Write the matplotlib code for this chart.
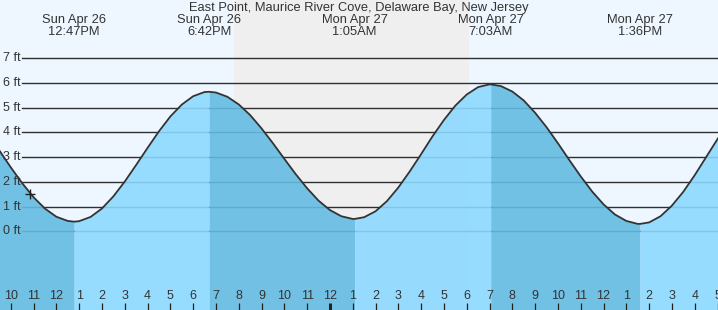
import matplotlib
matplotlib.use("Agg")
import matplotlib.pyplot as plt
import matplotlib.transforms as mtransforms

# ---- data (hours since 00:00 Sun Apr 26) ----
T = [9.5, 10.0, 10.5, 11.0, 11.5, 12.0, 12.5, 12.783, 13.0, 13.5, 14.0, 14.5, 15.0, 15.5, 16.0,
     16.5, 17.0, 17.5, 18.0, 18.5, 18.7, 19.0, 19.5, 20.0, 20.5, 21.0, 21.5, 22.0, 22.5, 23.0,
     23.5, 24.0, 24.5, 25.0, 25.083, 25.5, 26.0, 26.5, 27.0, 27.5, 28.0, 28.5, 29.0, 29.5, 30.0,
     30.5, 31.0, 31.05, 31.5, 32.0, 32.5, 33.0, 33.5, 34.0, 34.5, 35.0, 35.5, 36.0, 36.5, 37.0,
     37.5, 37.6, 38.0, 38.5, 39.0, 39.5, 40.0, 40.5, 41.0, 41.5]
H = [3.27, 2.59, 1.95, 1.38, 0.92, 0.59, 0.42, 0.39, 0.41, 0.58, 0.92, 1.41, 2.01, 2.68, 3.37,
     4.04, 4.64, 5.12, 5.46, 5.63, 5.64, 5.61, 5.44, 5.13, 4.7, 4.16, 3.56, 2.93, 2.31, 1.74,
     1.24, 0.86, 0.61, 0.5, 0.5, 0.57, 0.81, 1.22, 1.77, 2.42, 3.12, 3.84, 4.5, 5.08, 5.53,
     5.83, 5.94, 5.94, 5.87, 5.65, 5.29, 4.79, 4.21, 3.56, 2.88, 2.22, 1.61, 1.09, 0.68, 0.42,
     0.3, 0.3, 0.36, 0.61, 1.04, 1.6, 2.27, 3.0, 3.73, 4.42]

event_t = [12.783, 18.7, 25.083, 31.05, 37.6]
event_day = ["Sun Apr 26", "Sun Apr 26", "Mon Apr 27", "Mon Apr 27", "Mon Apr 27"]
event_time = ["12:47PM", "6:42PM", "1:05AM", "7:03AM", "1:36PM"]
event_falling = [False, True, False, True, False]   # tide after each event is falling?

sunset, sunrise = 19.79, 30.09
now_t, now_h = 10.85, 1.5
hours = list(range(10, 42))
ft_levels = list(range(0, 8))
title = "East Point, Maurice River Cove, Delaware Bay, New Jersey"

# ---- style ----
W, Hpx = 718, 310
FONT = "Liberation Sans"
TXT = "#333333"
SKY = "#eef7ff"
NIGHT = "#efefef"
LIGHT = "#8cd9ff"
DARK = "#64bce3"

fig = plt.figure(figsize=(W / 100, Hpx / 100), dpi=100)
ax = fig.add_axes([0, 0, 1, 1])
ax.set_xlim(9.53, 41.02)
ax.set_ylim(-3.18, 9.35)
ax.set_facecolor(SKY)
for s in ax.spines.values():
    s.set_visible(False)
ax.set_xticks([])
ax.set_yticks([])

ax.axvspan(sunset, sunrise, color=NIGHT, lw=0, zorder=0)

yt = mtransforms.blended_transform_factory(ax.transAxes, ax.transData)
xt = ax.get_xaxis_transform()

for v in ft_levels:
    ax.axhline(v, xmin=22 / W, xmax=1, color="#2f2f2f", lw=1.0, zorder=1)
    ax.text(3 / W, v, f"{v} ft", transform=yt, ha="left", va="center",
            fontsize=9, color=TXT, family=FONT, zorder=5)

# water fill segments, alternating by rising/falling
bounds = [T[0]] + event_t + [T[-1]]
falling = [True] + event_falling
for i in range(len(bounds) - 1):
    a, b = bounds[i], bounds[i + 1]
    xs = [t for t in T if a <= t <= b]
    ys = [h for t, h in zip(T, H) if a <= t <= b]
    ax.fill_between(xs, ys, -4, color=DARK if falling[i] else LIGHT, alpha=0.9, lw=0, zorder=2)

ax.plot(T, H, color="#333333", lw=1.3, zorder=3, solid_capstyle="round")
ax.plot([now_t], [now_h], marker="+", color="#222222", ms=7, mew=1.0, zorder=4)

# hour ticks along the bottom
for h in hours:
    lab = str((h - 1) % 12 + 1)
    ax.text(h, (Hpx - 295.7) / Hpx, lab, transform=xt, ha="center", va="center",
            fontsize=9, color=TXT, family=FONT, zorder=5)
    ax.plot([h, h], [0, 7 / Hpx], transform=xt, color="#222222",
            lw=2.2 if h % 24 == 0 else 0.9, solid_capstyle="butt", zorder=5)

# event labels
for t, d, tm in zip(event_t, event_day, event_time):
    ax.text(t, 1 - 20 / Hpx, d, transform=xt, ha="center", va="center",
            fontsize=9.3, color=TXT, family=FONT, zorder=5)
    ax.text(t, 1 - 32 / Hpx, tm, transform=xt, ha="center", va="center",
            fontsize=9.3, color=TXT, family=FONT, zorder=5)

fig.text(0.5, 1 - 7.5 / Hpx, title, ha="center", va="center",
         fontsize=9.3, color=TXT, family=FONT)

fig.savefig("out.png", dpi=100)
